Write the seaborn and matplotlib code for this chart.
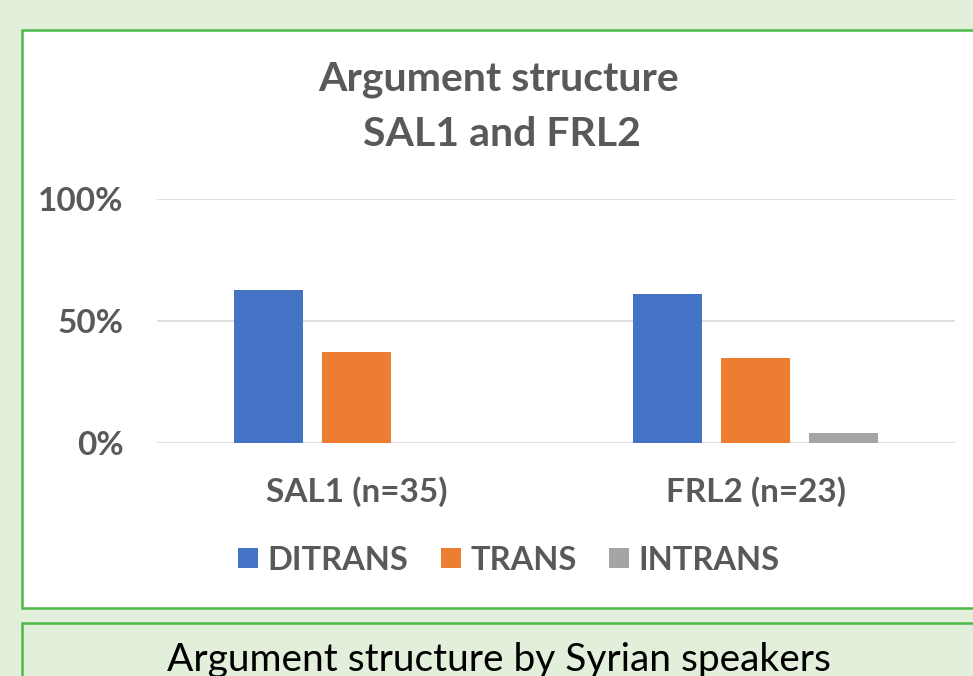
import numpy as np
import pandas as pd
import matplotlib
matplotlib.use("Agg")
import matplotlib.pyplot as plt
import matplotlib.patches as mpatches
from matplotlib.ticker import PercentFormatter
import seaborn as sns

# data
groups = ["SAL1 (n=35)", "FRL2 (n=23)"]
types = ["DITRANS", "TRANS", "INTRANS"]
sal1_share = [0.629, 0.371, 0.0]
frl2_share = [0.609, 0.348, 0.043]
y_ticks = [0.0, 0.5, 1.0]

BLUE = "#4472C4"
ORANGE = "#ED7D31"
GREY = "#A5A5A5"
TEXT = "#595959"
PAGE_BG = "#E2EFDA"
BORDER = "#4DB848"

sns.set_style("white")
plt.rcParams["font.family"] = ["Lato", "DejaVu Sans"]

df = pd.DataFrame({
    "group": [groups[0]] * 3 + [groups[1]] * 3,
    "type": types * 2,
    "share": sal1_share + frl2_share,
})

W, H = 973, 676
fig = plt.figure(figsize=(W / 100, H / 100), dpi=100, facecolor=PAGE_BG)

def fx(px):
    return px / W

def fy(py):
    return 1 - py / H

# white chart panel with green border
fig.patches.append(mpatches.Rectangle((fx(22), fy(608)), fx(1000), fy(30) - fy(608),
                                      transform=fig.transFigure, facecolor="white",
                                      edgecolor=BORDER, lw=1.8, zorder=-2))
# caption box below
fig.patches.append(mpatches.Rectangle((fx(22), fy(720)), fx(1000), fy(623) - fy(720),
                                      transform=fig.transFigure, facecolor=PAGE_BG,
                                      edgecolor=BORDER, lw=1.8, zorder=-2))

ax = fig.add_axes([fx(157), fy(443), fx(955) - fx(157), fy(199) - fy(443)])
ax.set_facecolor("none")

sns.barplot(data=df, x="group", y="share", hue="type", hue_order=types,
            palette=[BLUE, ORANGE, GREY], saturation=1, width=0.66, gap=0.21,
            edgecolor="none", ax=ax)

handles, labels = ax.get_legend_handles_labels()
ax.get_legend().remove()

ax.set_ylim(0, 1)
ax.set_xlim(-0.5, 1.5)
ax.set_yticks(y_ticks)
ax.yaxis.set_major_formatter(PercentFormatter(1.0, decimals=0))
ax.grid(axis="y", color="#D9D9D9", lw=1.2)
ax.set_axisbelow(True)
for s in ax.spines.values():
    s.set_visible(False)
ax.tick_params(axis="y", length=0, pad=24, labelsize=24, labelcolor=TEXT)
ax.tick_params(axis="x", length=0, pad=24, labelsize=24, labelcolor=TEXT)
for t in ax.get_xticklabels() + ax.get_yticklabels():
    t.set_fontweight("bold")
ax.set_xlabel("")
ax.set_ylabel("")

fig.text(fx(499), fy(91), "Argument structure", ha="center", va="baseline",
         fontsize=29.5, fontweight="bold", color=TEXT)
fig.text(fx(502), fy(146), "SAL1 and FRL2", ha="center", va="baseline",
         fontsize=29.5, fontweight="bold", color=TEXT)

leg = ax.legend(handles, labels, loc="center", ncol=3, frameon=False,
                bbox_to_anchor=(fx(509), fy(560)), bbox_transform=fig.transFigure,
                prop={"size": 23.5, "weight": "bold"}, labelcolor=TEXT,
                handlelength=0.6, handleheight=0.6, handletextpad=0.3,
                columnspacing=1.0)

fig.text(fx(499), fy(671), "Argument structure by Syrian speakers", ha="center",
         va="baseline", fontsize=28, color="black")

fig.savefig("out.png", dpi=100, facecolor=PAGE_BG)
